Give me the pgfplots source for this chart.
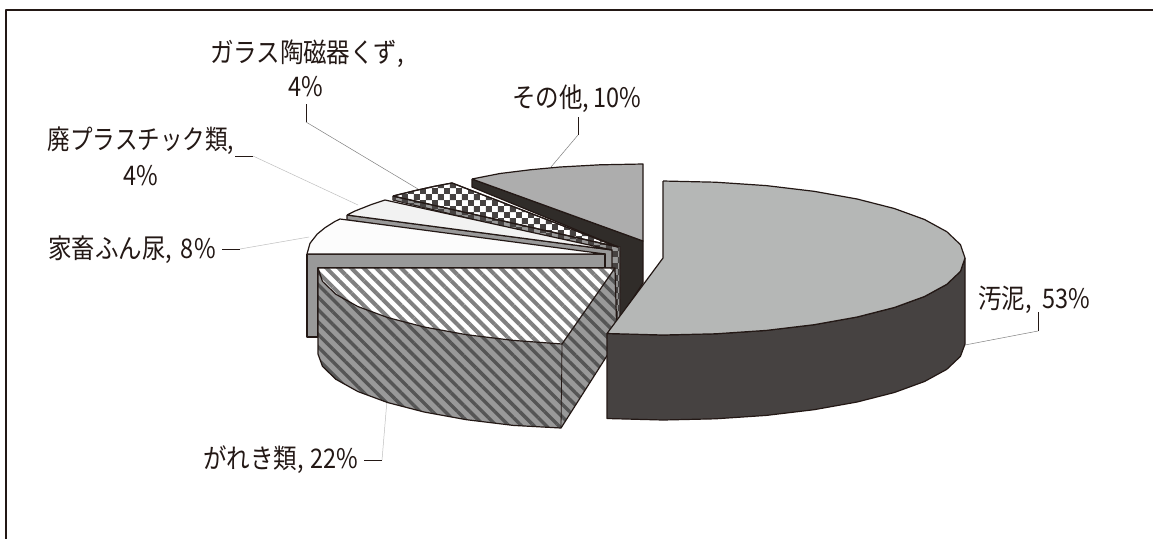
\documentclass[border=0pt]{standalone}
\usepackage{pgfplots}
\pgfplotsset{compat=1.18}
\usepackage{fontspec}
\usetikzlibrary{patterns,patterns.meta}
\setmainfont{Noto Sans CJK JP}
\pgfdeclarepatternformonly{bigcheck}{\pgfpointorigin}{\pgfqpoint{12.4pt}{12.4pt}}{\pgfqpoint{12.4pt}{12.4pt}}{%
  \pgfpathrectangle{\pgfpointorigin}{\pgfqpoint{6.2pt}{6.2pt}}%
  \pgfpathrectangle{\pgfqpoint{6.2pt}{6.2pt}}{\pgfqpoint{6.2pt}{6.2pt}}%
  \pgfusepath{fill}}
\definecolor{mudtop}{HTML}{B5B7B6}
\definecolor{mudside}{HTML}{464241}
\definecolor{othertop}{HTML}{ADADAD}
\definecolor{otherside}{HTML}{302C29}
\definecolor{ink}{HTML}{231815}
\definecolor{midgray}{HTML}{999999}
\definecolor{stripe}{HTML}{555555}
\newcommand{\lab}[3]{\node[inner sep=0pt,anchor=#1,text=ink,font=\fontsize{27}{29}\selectfont] at (axis cs:#2) {\scalebox{.87}[1]{#3}};}
\begin{document}
\begin{tikzpicture}
\begin{axis}[
  width=1153pt,height=539pt,scale only axis,
  xmin=0,xmax=1153,ymin=0,ymax=539,y dir=reverse,
  hide axis,clip=true,
  every axis plot/.append style={line join=round,mark=none,line width=1.2pt,draw=ink},
]
% page
\addplot[fill=white,draw=none] coordinates {(0,0)(1153,0)(1153,539)(0,539)(0,0)};
% frame (top and left)
\addplot[line width=2pt] coordinates {(1153,10)(6,10)(6,539)};
% leaders
\addplot[line width=.5pt,draw=gray] coordinates {(965,345)(1038,331)};
\addplot[line width=.7pt] coordinates {(1038,331)(1038,312)};
\addplot[line width=.5pt,draw=gray] coordinates {(578,135)(551,167)};
\addplot[line width=.7pt] coordinates {(578,135)(578,117)};
\addplot[line width=.5pt,draw=gray] coordinates {(306,122)(418,189)};
\addplot[line width=.7pt] coordinates {(306,122)(306,104)};
\addplot[line width=.5pt,draw=lightgray] coordinates {(253,156)(358,205)};
\addplot[line width=.7pt] coordinates {(235,156)(253,156)};
\addplot[line width=.5pt,draw=lightgray] coordinates {(240,249)(309,237)};
\addplot[line width=.7pt] coordinates {(222,249)(240,249)};
\addplot[line width=.5pt,draw=lightgray] coordinates {(382,460)(387,400)};
\addplot[line width=.7pt] coordinates {(364,460)(382,460)};
% other 10%
\addplot[fill=otherside] coordinates {(472,179)(643,241)(643,283)(620,318)(618,247)(472,187)(472,179)};
\addplot[fill=othertop] coordinates {(472,179)(500,173.5)(530,169.8)(560,167)(600,164.8)(643,164)(643,241)(472,179)};
% glass 4%: side
\addplot[fill=midgray,draw=ink] coordinates {(393,196)(393,200)(608,252)(612,268)(612,318)(620,318)(620,247)(393,196)};
\addplot[draw=none,pattern={bigcheck},pattern color=mudside] coordinates {(393,196)(393,200)(608,252)(612,268)(612,318)(620,318)(620,247)(393,196)};
% glass 4%: top
\addplot[fill=white] coordinates {(393,196)(415,190.6)(435,186.2)(452,183)(618,247)(393,196)};
\addplot[draw=none,pattern={bigcheck},pattern color=mudside] coordinates {(393,196)(415,190.6)(435,186.2)(452,183)(618,247)(393,196)};
\addplot[draw=ink,line width=1.2pt] coordinates {(393,196)(415,190.6)(435,186.2)(452,183)(618,247)(393,196)};
% plastic 4%
\addplot[fill=midgray] coordinates {(347,215)(347,220)(605,256)(605,268)(612,268)(612,250)(347,215)};
\addplot[fill=black!5] coordinates {(347,215)(355,211)(372,204.3)(385,200)(612,250)(347,215)};
% livestock 8%
\addplot[fill=midgray] coordinates {(307,254)(605,254)(605,268)(318,268)(318,337)(307,337)(307,254)};
\addplot[fill=black!1] coordinates {(307,254)(310,243.3)(317.2,234.1)(325,227.7)(335,221.4)(340,219)(605,254)(307,254)};
% rubble 22%: side
\addplot[fill=midgray,draw=none] coordinates {(318,268)(322.5,281.4)(335.9,294.3)(357.8,306.5)(387.5,317.5)(424.1,327)(466.5,334.7)(513.4,340.4)(562,344)(615,268)(617,340)(561,428)(513.4,425.4)(466.5,419.7)(424.1,412)(387.5,402.5)(357.8,391.5)(335.9,379.3)(322.5,366.4)(318,354)(318,268)};
\addplot[draw=none,pattern={Lines[angle=-45,distance=8.8pt,line width=3.4pt]},pattern color=stripe] coordinates {(318,268)(322.5,281.4)(335.9,294.3)(357.8,306.5)(387.5,317.5)(424.1,327)(466.5,334.7)(513.4,340.4)(562,344)(615,268)(617,340)(561,428)(513.4,425.4)(466.5,419.7)(424.1,412)(387.5,402.5)(357.8,391.5)(335.9,379.3)(322.5,366.4)(318,354)(318,268)};
\addplot[draw=ink] coordinates {(318,268)(318,354)(322.5,366.4)(335.9,379.3)(357.8,391.5)(387.5,402.5)(424.1,412)(466.5,419.7)(513.4,425.4)(561,428)(617,340)(615,268)};
% rubble 22%: top
\addplot[fill=white,draw=none] coordinates {(318,268)(615,268)(562,344)(513.4,340.4)(466.5,334.7)(424.1,327)(387.5,317.5)(357.8,306.5)(335.9,294.3)(322.5,281.4)(318,268)};
\addplot[draw=none,pattern={Lines[angle=-45,distance=8.8pt,line width=4pt]},pattern color=black!50] coordinates {(318,268)(615,268)(562,344)(513.4,340.4)(466.5,334.7)(424.1,327)(387.5,317.5)(357.8,306.5)(335.9,294.3)(322.5,281.4)(318,268)};
\addplot[draw=ink] coordinates {(318,268)(615,268)(562,344)(513.4,340.4)(466.5,334.7)(424.1,327)(387.5,317.5)(357.8,306.5)(335.9,294.3)(322.5,281.4)(318,268)};
\addplot[draw=ink,line width=.8pt] coordinates {(562,344)(561,428)};
% mud 53%
\addplot[fill=mudside] coordinates {(965,258)(960.4,271.4)(946.8,284.3)(924.5,296.5)(894.3,307.5)(857.1,317)(814,324.7)(766.3,330.4)(715.4,333.8)(663,335)(607,333.5)(607,418.5)(663,420)(715.4,418.8)(766.3,415.4)(814,409.7)(857.1,402)(894.3,392.5)(924.5,381.5)(946.8,369.3)(960.4,356.4)(965,344)(965,258)};
\addplot[fill=mudtop] coordinates {(663,181)(715.4,182.2)(766.3,185.6)(814,191.3)(857.1,199)(894.3,208.5)(924.5,219.5)(946.8,231.7)(960.4,244.6)(965,258)(960.4,271.4)(946.8,284.3)(924.5,296.5)(894.3,307.5)(857.1,317)(814,324.7)(766.3,330.4)(715.4,333.8)(663,335)(607,333.5)(663,258)(663,181)};
% labels
\lab{center}{307,54}{ガラス陶磁器くず,}
\lab{center}{306,87}{4\%}
\lab{center}{577,99}{その他,\hspace{5pt}10\%}
\lab{center}{141,141}{\scalebox{.96}[1]{廃プラスチック類,}}
\lab{center}{141,176}{4\%}
\lab{center}{132,250}{家畜ふん尿,\hspace{10pt}8\%}
\lab{center}{281,460}{がれき類,\hspace{8pt}22\%}
\lab{center}{1034,300}{汚泥,\hspace{12pt}53\%}
\end{axis}
\end{tikzpicture}
\end{document}
